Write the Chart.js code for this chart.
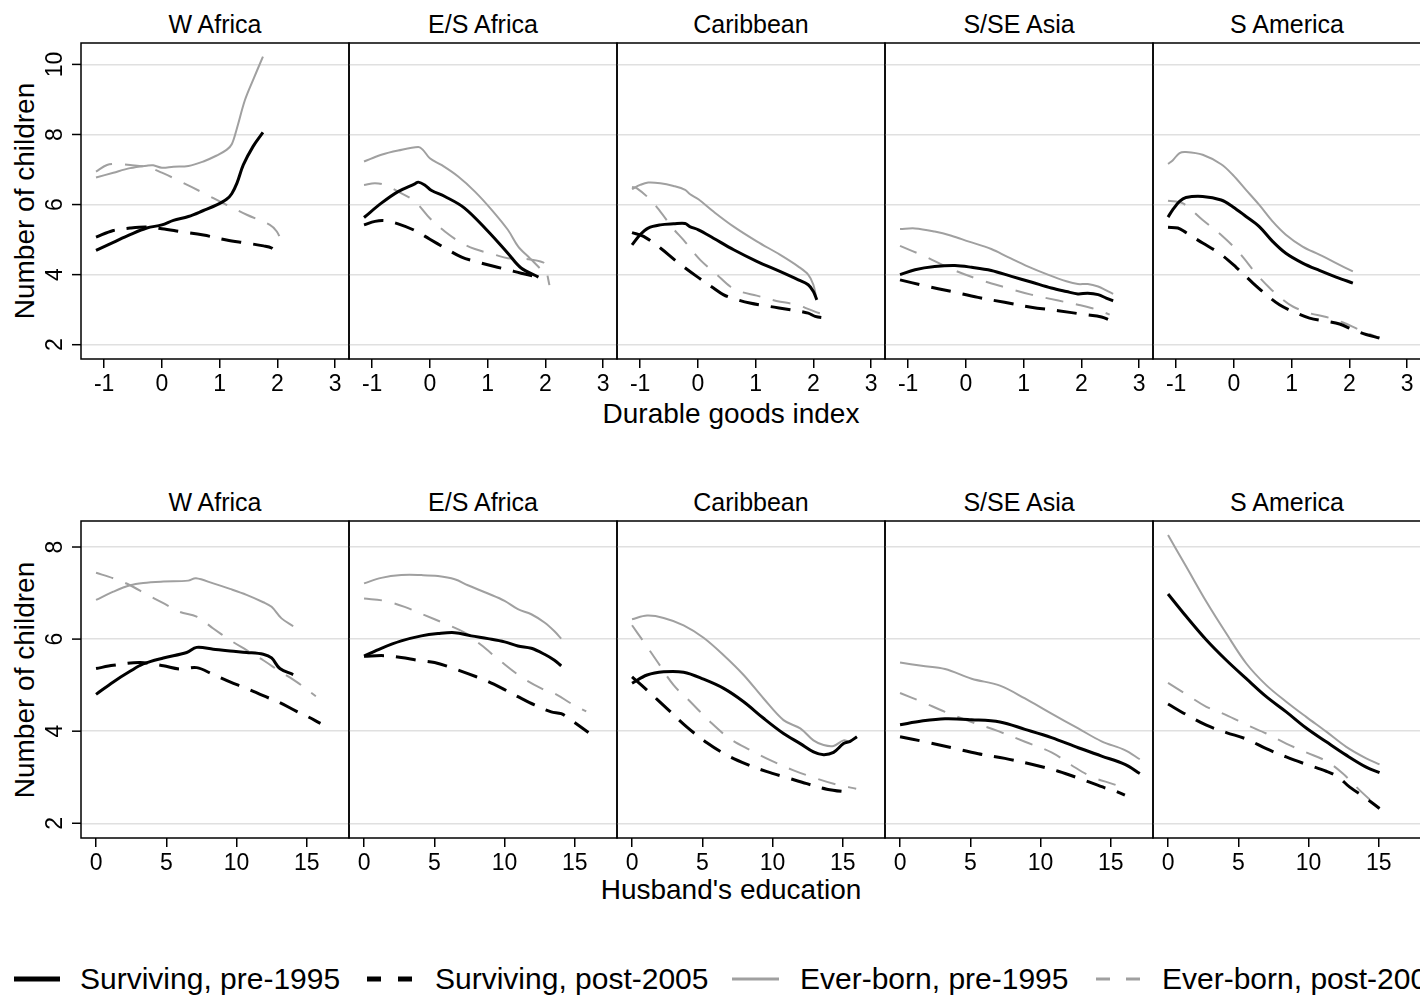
<!DOCTYPE html>
<html lang="en">
<head>
  <meta charset="UTF-8">
  <title>Number of children by durable goods index and husband's education</title>
  <style>
    html, body {
      margin: 0;
      padding: 0;
      background: #fff;
      overflow: hidden;
      width: 1420px;
      height: 1003px;
    }
    body {
      position: relative;
      font-family: "Liberation Sans", Arial, Helvetica, sans-serif;
      color: #000;
    }
    canvas { position: absolute; }
    .lbl {
      position: absolute;
      white-space: nowrap;
      line-height: 1;
      transform: translate(-50%, -50%);
    }
    .ptitle { font-size: 25px; }
    .atitle { font-size: 28px; }
    .ytitle { font-size: 28px; transform: translate(-50%, -50%) rotate(-90deg); }
    .leg {
      position: absolute;
      top: 979px;
      white-space: nowrap;
      line-height: 1;
      font-size: 30px;
      transform: translateY(-50%);
    }
    .sw { position: absolute; top: 969px; }
  </style>
</head>
<body>
  <div id="labels"></div>

  <svg class="sw" style="left:14px" width="46" height="20"><line x1="0" y1="10" x2="46" y2="10" stroke="#000" stroke-width="5"/></svg>
  <div class="leg" style="left:80px">Surviving, pre-1995</div>
  <svg class="sw" style="left:367px" width="46" height="20"><line x1="0" y1="10" x2="46" y2="10" stroke="#000" stroke-width="5" stroke-dasharray="14 17"/></svg>
  <div class="leg" style="left:435px">Surviving, post-2005</div>
  <svg class="sw" style="left:732px" width="47" height="20"><line x1="0" y1="10" x2="47" y2="10" stroke="#a0a0a0" stroke-width="3"/></svg>
  <div class="leg" style="left:800px">Ever-born, pre-1995</div>
  <svg class="sw" style="left:1096px" width="44" height="20"><line x1="0" y1="10" x2="44" y2="10" stroke="#a0a0a0" stroke-width="3" stroke-dasharray="14 16"/></svg>
  <div class="leg" style="left:1162px">Ever-born, post-2005</div>

  <script src="https://cdn.jsdelivr.net/npm/chart.js"></script>
  <script>
    const regions = ['W Africa', 'E/S Africa', 'Caribbean', 'S/SE Asia', 'S America'];
    const seriesNames = ['Surviving, pre-1995', 'Surviving, post-2005', 'Ever-born, pre-1995', 'Ever-born, post-2005'];

    const durTicks = [-1, 0, 1, 2, 3];
    const eduTicks = [0, 5, 10, 15];
    const durYTicks = [2, 4, 6, 8, 10];
    const eduYTicks = [2, 4, 6, 8];

    // top row: x = durable goods index, one list of [x, y] per region
    const durSurvPre = [
      [[-1.14,4.69],[-0.84,4.92],[-0.55,5.14],[-0.26,5.33],[0.0,5.42],[0.2,5.55],[0.46,5.66],[0.72,5.83],[0.95,5.99],[1.12,6.15],[1.21,6.31],[1.3,6.61],[1.41,7.13],[1.58,7.66],[1.75,8.06]],
      [[-1.14,5.63],[-0.84,6.04],[-0.55,6.37],[-0.26,6.59],[-0.2,6.64],[-0.09,6.56],[0.03,6.40],[0.26,6.23],[0.6,5.90],[1.01,5.23],[1.35,4.61],[1.58,4.19],[1.88,3.93]],
      [[-1.14,4.85],[-1.0,5.14],[-0.86,5.33],[-0.65,5.42],[-0.42,5.45],[-0.22,5.46],[-0.14,5.37],[0.01,5.28],[0.27,5.04],[0.62,4.71],[1.02,4.38],[1.42,4.09],[1.74,3.85],[1.91,3.71],[2.0,3.52],[2.06,3.28]],
      [[-1.14,4.00],[-0.88,4.14],[-0.54,4.23],[-0.19,4.26],[0.1,4.21],[0.44,4.12],[0.79,3.95],[1.13,3.79],[1.48,3.62],[1.74,3.52],[1.94,3.45],[2.11,3.47],[2.29,3.43],[2.43,3.33],[2.55,3.25]],
      [[-1.14,5.64],[-1.06,5.85],[-0.94,6.09],[-0.83,6.20],[-0.54,6.23],[-0.22,6.13],[-0.02,5.94],[0.21,5.66],[0.44,5.37],[0.67,4.95],[0.9,4.61],[1.19,4.33],[1.48,4.12],[1.77,3.93],[2.06,3.76]]
    ];
    const durSurvPost = [
      [[-1.14,5.07],[-0.84,5.26],[-0.55,5.33],[-0.26,5.36],[0.0,5.31],[0.32,5.23],[0.72,5.13],[1.12,4.99],[1.47,4.90],[1.76,4.82],[1.9,4.76],[2.0,4.61]],
      [[-1.14,5.42],[-0.95,5.52],[-0.78,5.54],[-0.55,5.45],[-0.26,5.26],[0.0,5.01],[0.26,4.76],[0.55,4.50],[0.78,4.38],[1.12,4.23],[1.35,4.14],[1.58,4.04],[1.88,3.93]],
      [[-1.14,5.20],[-0.94,5.09],[-0.65,4.76],[-0.37,4.38],[-0.02,3.95],[0.27,3.62],[0.44,3.43],[0.59,3.33],[0.9,3.19],[1.25,3.09],[1.6,3.00],[1.91,2.90],[2.03,2.81],[2.22,2.76]],
      [[-1.14,3.85],[-0.71,3.68],[-0.25,3.52],[0.21,3.35],[0.67,3.21],[1.13,3.07],[1.6,2.97],[2.06,2.86],[2.35,2.79],[2.52,2.68]],
      [[-1.14,5.35],[-0.97,5.33],[-0.83,5.20],[-0.54,4.90],[-0.25,4.61],[0.04,4.21],[0.33,3.76],[0.56,3.43],[0.79,3.14],[1.02,2.95],[1.31,2.76],[1.6,2.67],[1.83,2.59],[2.06,2.43],[2.29,2.29],[2.52,2.19]]
    ];
    const durEverPre = [
      [[-1.14,6.77],[-0.84,6.91],[-0.55,7.04],[-0.26,7.11],[-0.15,7.12],[0.0,7.05],[0.2,7.08],[0.46,7.10],[0.72,7.23],[0.95,7.40],[1.12,7.56],[1.21,7.72],[1.3,8.18],[1.44,8.99],[1.58,9.56],[1.75,10.22]],
      [[-1.14,7.23],[-0.84,7.42],[-0.55,7.54],[-0.2,7.64],[-0.12,7.56],[0.0,7.32],[0.2,7.13],[0.49,6.80],[0.78,6.37],[1.07,5.85],[1.35,5.28],[1.53,4.80],[1.73,4.47],[1.9,4.19]],
      [[-1.14,6.44],[-1.0,6.56],[-0.86,6.63],[-0.65,6.61],[-0.42,6.53],[-0.22,6.42],[-0.14,6.30],[0.01,6.15],[0.27,5.80],[0.62,5.37],[1.02,4.95],[1.42,4.57],[1.74,4.23],[1.91,4.00],[2.0,3.71],[2.05,3.33]],
      [[-1.14,5.30],[-0.88,5.32],[-0.54,5.23],[-0.25,5.11],[0.04,4.95],[0.44,4.73],[0.73,4.50],[1.08,4.23],[1.42,4.00],[1.74,3.81],[1.94,3.73],[2.11,3.73],[2.29,3.66],[2.43,3.55],[2.55,3.45]],
      [[-1.14,7.16],[-1.06,7.26],[-0.94,7.47],[-0.83,7.50],[-0.54,7.42],[-0.22,7.15],[-0.02,6.85],[0.21,6.42],[0.44,5.99],[0.67,5.52],[0.9,5.14],[1.19,4.80],[1.48,4.57],[1.77,4.33],[2.06,4.09]]
    ];
    const durEverPost = [
      [[-1.14,6.94],[-0.95,7.13],[-0.78,7.16],[-0.55,7.13],[-0.26,7.07],[0.0,6.91],[0.32,6.66],[0.72,6.33],[1.12,5.99],[1.47,5.71],[1.87,5.42],[1.99,5.23],[2.07,4.95]],
      [[-1.14,6.56],[-0.95,6.61],[-0.78,6.56],[-0.55,6.37],[-0.26,6.09],[0.0,5.61],[0.26,5.23],[0.55,4.90],[0.78,4.73],[1.12,4.57],[1.35,4.47],[1.7,4.44],[1.96,4.35],[2.0,4.23],[2.07,3.70]],
      [[-1.14,6.50],[-1.06,6.47],[-0.83,6.15],[-0.65,5.80],[-0.42,5.30],[-0.25,4.99],[0.04,4.42],[0.33,4.00],[0.56,3.66],[0.73,3.52],[1.02,3.40],[1.36,3.25],[1.71,3.14],[1.94,3.00],[2.11,2.90],[2.23,2.88]],
      [[-1.14,4.82],[-0.71,4.52],[-0.25,4.16],[0.21,3.87],[0.67,3.64],[1.13,3.43],[1.6,3.26],[1.94,3.14],[2.17,3.05],[2.35,2.95],[2.49,2.86]],
      [[-1.14,6.11],[-0.89,6.04],[-0.54,5.56],[-0.19,5.09],[0.1,4.61],[0.38,4.04],[0.62,3.62],[0.85,3.28],[1.02,3.09],[1.31,2.90],[1.6,2.79],[1.88,2.64],[2.17,2.43],[2.52,2.19]]
    ];

    // bottom row: x = husband's education (years)
    const eduSurvPre = [
      [[0,4.80],[1.23,5.07],[2.42,5.30],[3.36,5.46],[4.79,5.59],[6.45,5.71],[7.16,5.82],[8.34,5.78],[9.53,5.74],[10.71,5.71],[11.9,5.67],[12.49,5.59],[13.08,5.36],[14.03,5.23]],
      [[0,5.63],[1.23,5.80],[2.65,5.96],[4.08,6.07],[5.26,6.12],[6.45,6.14],[7.63,6.07],[8.82,6.01],[10.0,5.94],[10.95,5.85],[11.9,5.80],[12.84,5.67],[13.55,5.54],[14.03,5.42]],
      [[0,5.04],[1.07,5.22],[2.25,5.29],[3.67,5.28],[5.09,5.13],[6.52,4.93],[7.94,4.64],[9.36,4.28],[10.78,3.95],[11.97,3.73],[12.91,3.55],[13.63,3.49],[14.34,3.54],[15.05,3.73],[15.52,3.78],[16.0,3.88]],
      [[0,4.14],[1.54,4.22],[3.2,4.27],[5.09,4.25],[7.11,4.20],[8.89,4.04],[10.78,3.86],[12.68,3.64],[14.34,3.46],[16.0,3.28],[17.06,3.08]],
      [[0,6.98],[1.3,6.49],[2.73,5.98],[4.15,5.54],[5.57,5.14],[6.99,4.75],[8.41,4.42],[9.83,4.07],[11.26,3.77],[12.68,3.48],[14.1,3.22],[15.05,3.10]]
    ];
    const eduSurvPost = [
      [[0,5.36],[1.23,5.43],[3.13,5.49],[4.79,5.42],[5.97,5.35],[7.16,5.38],[8.34,5.23],[9.53,5.07],[10.71,4.93],[11.9,4.77],[13.08,4.62],[14.27,4.43],[14.98,4.33],[15.97,4.17]],
      [[0,5.63],[1.47,5.64],[2.65,5.60],[3.84,5.54],[5.02,5.49],[6.21,5.38],[7.39,5.25],[8.58,5.11],[9.76,4.94],[10.95,4.75],[12.13,4.57],[13.32,4.42],[14.03,4.38],[14.74,4.24],[15.97,3.97]],
      [[0,5.18],[1.07,4.89],[2.49,4.49],[3.91,4.09],[5.33,3.75],[6.75,3.48],[8.18,3.28],[9.6,3.12],[11.02,2.99],[12.44,2.86],[13.86,2.74],[15.52,2.67]],
      [[0,3.88],[1.78,3.77],[3.67,3.64],[5.57,3.51],[7.46,3.41],[9.36,3.28],[11.26,3.13],[13.15,2.93],[14.57,2.77],[15.17,2.72],[16.0,2.61]],
      [[0,4.59],[1.3,4.36],[2.73,4.13],[4.15,3.97],[5.57,3.83],[6.99,3.62],[8.41,3.44],[9.83,3.28],[11.26,3.13],[12.09,3.01],[12.91,2.79],[14.1,2.54],[15.05,2.32]]
    ];
    const eduEverPre = [
      [[0,6.85],[1.23,7.03],[2.42,7.17],[3.36,7.22],[4.79,7.25],[6.56,7.27],[7.11,7.32],[8.34,7.21],[9.53,7.09],[10.71,6.96],[11.9,6.80],[12.49,6.70],[13.2,6.45],[14.03,6.28]],
      [[0,7.21],[1.23,7.33],[2.65,7.39],[4.08,7.39],[5.26,7.37],[6.45,7.30],[7.39,7.17],[8.82,6.99],[10.0,6.83],[10.95,6.65],[11.9,6.54],[12.84,6.36],[13.55,6.17],[14.03,6.01]],
      [[0,6.43],[1.07,6.51],[2.25,6.46],[3.67,6.30],[5.09,6.03],[6.52,5.65],[7.94,5.22],[9.36,4.71],[10.78,4.24],[11.97,4.06],[12.91,3.80],[13.63,3.70],[14.34,3.68],[15.05,3.80],[15.52,3.78],[16.0,3.88]],
      [[0,5.49],[1.54,5.42],[3.2,5.35],[5.09,5.14],[7.11,4.99],[8.89,4.71],[10.78,4.38],[12.68,4.06],[14.34,3.78],[16.0,3.59],[17.06,3.39]],
      [[0,8.26],[1.3,7.57],[2.73,6.81],[4.15,6.12],[5.57,5.47],[6.99,5.00],[8.41,4.64],[9.83,4.31],[11.26,3.99],[12.68,3.66],[14.1,3.41],[15.05,3.28]]
    ];
    const eduEverPost = [
      [[0,7.44],[1.23,7.32],[2.42,7.17],[3.6,6.97],[4.79,6.78],[5.97,6.59],[7.16,6.49],[8.34,6.23],[9.53,5.98],[10.71,5.76],[11.9,5.54],[13.08,5.30],[14.27,5.07],[15.64,4.76]],
      [[0,6.88],[1.47,6.83],[2.89,6.70],[4.31,6.52],[5.73,6.34],[7.16,6.14],[8.34,5.87],[9.76,5.51],[11.18,5.18],[12.61,4.93],[13.67,4.80],[14.74,4.60],[15.81,4.43]],
      [[0,6.30],[0.83,5.94],[1.78,5.52],[2.96,5.00],[4.15,4.64],[5.57,4.20],[6.99,3.83],[8.41,3.59],[9.83,3.37],[11.49,3.15],[13.15,2.97],[14.57,2.84],[15.95,2.75]],
      [[0,4.83],[1.54,4.64],[3.2,4.42],[5.09,4.20],[6.99,4.00],[8.89,3.77],[10.78,3.54],[12.2,3.26],[13.63,3.01],[15.28,2.84],[16.0,2.75]],
      [[0,5.05],[1.3,4.80],[2.73,4.53],[4.15,4.35],[5.57,4.14],[6.99,3.95],[8.41,3.73],[9.83,3.54],[11.26,3.35],[12.44,3.08],[13.63,2.72],[15.05,2.32]]
    ];

    const FONT = '"Liberation Sans", Arial, Helvetica, sans-serif';
    const PLOT_LEFT = 81;
    const PANEL_W = 268;
    const AXIS_H = 50;

    const styles = [
      { color: '#000', width: 3, dash: [] },
      { color: '#000', width: 3, dash: [20, 12] },
      { color: '#a0a0a0', width: 2, dash: [] },
      { color: '#a0a0a0', width: 2, dash: [18, 13] }
    ];

    const rows = [
      { top: 43, h: 316, xMin: -1.4, xMax: 3.24, yMin: 1.592, yMax: 10.611,
        xTicks: durTicks, yTicks: durYTicks, titleY: 24,
        xTitle: 'Durable goods index', xTitleY: 414,
        series: [durSurvPre, durSurvPost, durEverPre, durEverPost] },
      { top: 521, h: 317, xMin: -1.07, xMax: 18.0, yMin: 1.68, yMax: 8.565,
        xTicks: eduTicks, yTicks: eduYTicks, titleY: 502,
        xTitle: "Husband's education", xTitleY: 890,
        series: [eduSurvPre, eduSurvPost, eduEverPre, eduEverPost] }
    ];

    // box round each panel
    const frame = {
      id: 'frame',
      afterDraw(chart) {
        const a = chart.chartArea, g = chart.ctx;
        g.save();
        g.strokeStyle = '#000';
        g.lineWidth = 1.5;
        g.strokeRect(a.left, a.top, a.right - a.left, a.bottom - a.top);
        g.restore();
      }
    };

    // rotated y tick labels, first column only
    const yLabels = {
      id: 'yLabels',
      afterDraw(chart) {
        const s = chart.scales.y, a = chart.chartArea, g = chart.ctx;
        g.save();
        g.strokeStyle = '#000';
        g.lineWidth = 1.5;
        g.fillStyle = '#000';
        g.font = '23px ' + FONT;
        g.textAlign = 'center';
        g.textBaseline = 'middle';
        s.ticks.forEach(t => {
          const y = s.getPixelForValue(t.value);
          g.beginPath();
          g.moveTo(a.left - 9, y);
          g.lineTo(a.left, y);
          g.stroke();
          g.save();
          g.translate(a.left - 25, y);
          g.rotate(-Math.PI / 2);
          g.fillText(String(t.value), 0, 0);
          g.restore();
        });
        g.restore();
      }
    };

    function addLabel(text, cls, x, y) {
      const d = document.createElement('div');
      d.className = 'lbl ' + cls;
      d.textContent = text;
      d.style.left = x + 'px';
      d.style.top = y + 'px';
      document.getElementById('labels').appendChild(d);
    }

    function makePanel(row, k) {
      const first = k === 0;
      const padL = first ? PLOT_LEFT : 2;
      const plotLeft = PLOT_LEFT + PANEL_W * k;
      const cv = document.createElement('canvas');
      cv.width = padL + PANEL_W + 2;
      cv.height = 2 + row.h + AXIS_H;
      cv.style.left = (plotLeft - padL) + 'px';
      cv.style.top = (row.top - 2) + 'px';
      document.body.appendChild(cv);

      new Chart(cv, {
        type: 'line',
        data: {
          datasets: row.series.map((s, i) => ({
            label: seriesNames[i],
            data: s[k].map(([x, y]) => ({ x, y })),
            borderColor: styles[i].color,
            borderWidth: styles[i].width,
            borderDash: styles[i].dash,
            pointRadius: 0,
            tension: 0.35,
            fill: false
          }))
        },
        options: {
          responsive: false,
          animation: false,
          events: [],
          layout: { padding: { left: padL, top: 2, right: 2, bottom: 0 } },
          plugins: { legend: { display: false }, tooltip: { enabled: false } },
          scales: {
            x: {
              type: 'linear',
              min: row.xMin,
              max: row.xMax,
              afterBuildTicks: s => { s.ticks = row.xTicks.map(v => ({ value: v })); },
              afterFit: s => { s.height = AXIS_H; },
              grid: { drawOnChartArea: false, drawTicks: true, tickLength: 9, color: '#000', lineWidth: 1.5 },
              border: { display: false },
              ticks: { color: '#000', font: { family: FONT, size: 23 }, padding: 3, maxRotation: 0, autoSkip: false }
            },
            y: {
              type: 'linear',
              min: row.yMin,
              max: row.yMax,
              afterBuildTicks: s => { s.ticks = row.yTicks.map(v => ({ value: v })); },
              afterFit: s => { s.width = 0; },
              grid: { color: '#e0e0e0', lineWidth: 1.5, drawTicks: false },
              border: { display: false },
              ticks: { display: false }
            }
          }
        },
        plugins: first ? [frame, yLabels] : [frame]
      });

      addLabel(regions[k], 'ptitle', plotLeft + PANEL_W / 2, row.titleY);
    }

    rows.forEach(row => {
      regions.forEach((r, k) => makePanel(row, k));
      addLabel(row.xTitle, 'atitle', 731, row.xTitleY);
      addLabel('Number of children', 'ytitle', 25, row.top + row.h / 2);
    });
  </script>
</body>
</html>
